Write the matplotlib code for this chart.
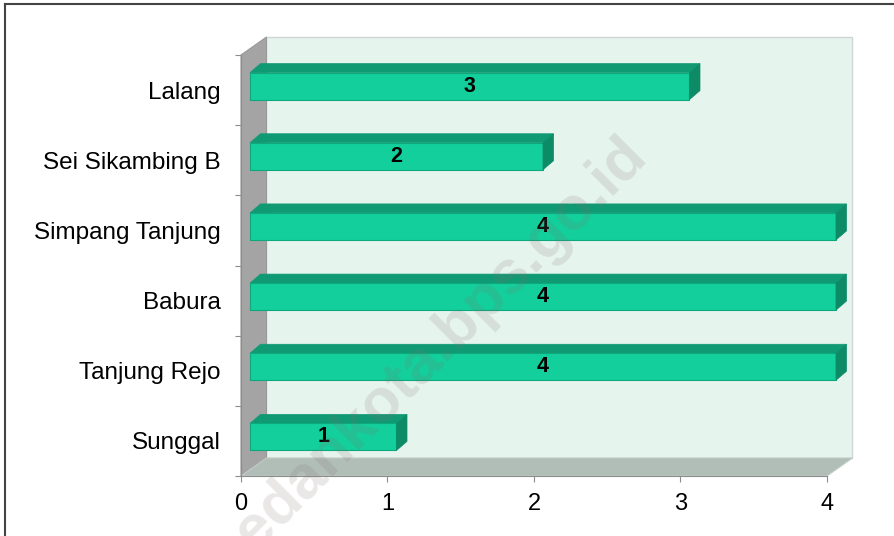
import matplotlib
matplotlib.use('Agg')
import matplotlib.pyplot as plt
from matplotlib.patches import Polygon
from matplotlib.lines import Line2D

plt.rcParams['font.family'] = ['Liberation Sans', 'DejaVu Sans']

# data (bottom to top)
categories = ['Sunggal', 'Tanjung Rejo', 'Babura', 'Simpang Tanjung', 'Sei Sikambing B', 'Lalang']
values = [1, 4, 4, 4, 2, 3]
x_ticks = [0, 1, 2, 3, 4]

W, H = 895, 536
fig = plt.figure(figsize=(W / 100, H / 100), dpi=100)
ax = fig.add_axes([241 / W, (H - 476) / H, 586 / W, 421 / H])
ax.set_xlim(0, 4)
ax.set_ylim(-0.5, len(categories) - 0.5)

# pixel -> data scale
sx = 4 / 586
sy = len(categories) / 421

# 3d box: walls and floor
wdx, wdy = 25.5 * sx, 18 * sy
y0, y1 = -0.5, len(categories) - 0.5
ax.add_patch(Polygon([(wdx, y0 + wdy), (4 + wdx, y0 + wdy), (4 + wdx, y1 + wdy), (wdx, y1 + wdy)],
                     closed=True, facecolor='#e6f4ee', edgecolor='#cfd6d3', lw=1, clip_on=False, zorder=1))
ax.add_patch(Polygon([(0, y0), (0, y1), (wdx, y1 + wdy), (wdx, y0 + wdy)],
                     closed=True, facecolor='#a4a4a4', edgecolor='#999999', lw=0.8, clip_on=False, zorder=2))
ax.add_patch(Polygon([(0, y0), (4, y0), (4 + wdx, y0 + wdy), (wdx, y0 + wdy)],
                     closed=True, facecolor='#b1beb8', edgecolor='#c3ccc8', lw=0.8, clip_on=False, zorder=2))

# bars
box, boy = 9 * sx, 4 * sy
bdx, bdy = 10.5 * sx, 9 * sy
bh = 27 * sy
ypos = [i + boy for i in range(len(categories))]
ax.barh(ypos, values, left=box, height=bh, color='#13cf9b', edgecolor='#0ea87d', lw=0.8,
        zorder=4, clip_on=False)
for y, v in zip(ypos, values):
    top, bot = y + bh / 2, y - bh / 2
    right = box + v
    ax.add_patch(Polygon([(box, top), (right, top), (right + bdx, top + bdy), (box + bdx, top + bdy)],
                         closed=True, facecolor='#0f9a73', edgecolor='#0f9a73', lw=0.5,
                         clip_on=False, zorder=3))
    ax.add_patch(Polygon([(right, bot), (right, top), (right + bdx, top + bdy), (right + bdx, bot + bdy)],
                         closed=True, facecolor='#0d8b67', edgecolor='#0d8b67', lw=0.5,
                         clip_on=False, zorder=5))
    ax.text(box + v / 2, y, str(v), ha='center', va='center', fontsize=15.5,
            fontweight='bold', color='black', zorder=6)

# axes
for s in ['top', 'right']:
    ax.spines[s].set_visible(False)
for s in ['left', 'bottom']:
    ax.spines[s].set_color('#8c8c8c')
    ax.spines[s].set_linewidth(0.8)
    ax.spines[s].set_zorder(3)

ax.set_yticks(range(len(categories)))
ax.set_yticklabels(categories, fontsize=17.5)
ax.set_yticks([i - 0.5 for i in range(len(categories) + 1)], minor=True)
ax.tick_params(axis='y', which='major', length=0, pad=14.5)
ax.tick_params(axis='y', which='minor', length=4, color='#8c8c8c', width=0.8)
ax.set_xticks(x_ticks)
ax.set_xticklabels([str(t) for t in x_ticks], fontsize=17)
ax.tick_params(axis='x', length=4.3, color='#8c8c8c', width=0.8, pad=8)
ax.set_facecolor('none')

# outer frame (left and top)
fig.add_artist(Line2D([5 / W, 5 / W], [0, 1 - 4 / H], color='#444444', lw=1.5))
fig.add_artist(Line2D([5 / W, 1], [1 - 4 / H, 1 - 4 / H], color='#444444', lw=1.5))

# watermark
fig.text(422 / W, 1 - 362 / H, 'medankota.bps.go.id', rotation=45, ha='center', va='center',
         fontsize=44, fontweight='bold', color=(0.5, 0.44, 0.44), alpha=0.17, zorder=10)

fig.savefig('out.png', dpi=100)
